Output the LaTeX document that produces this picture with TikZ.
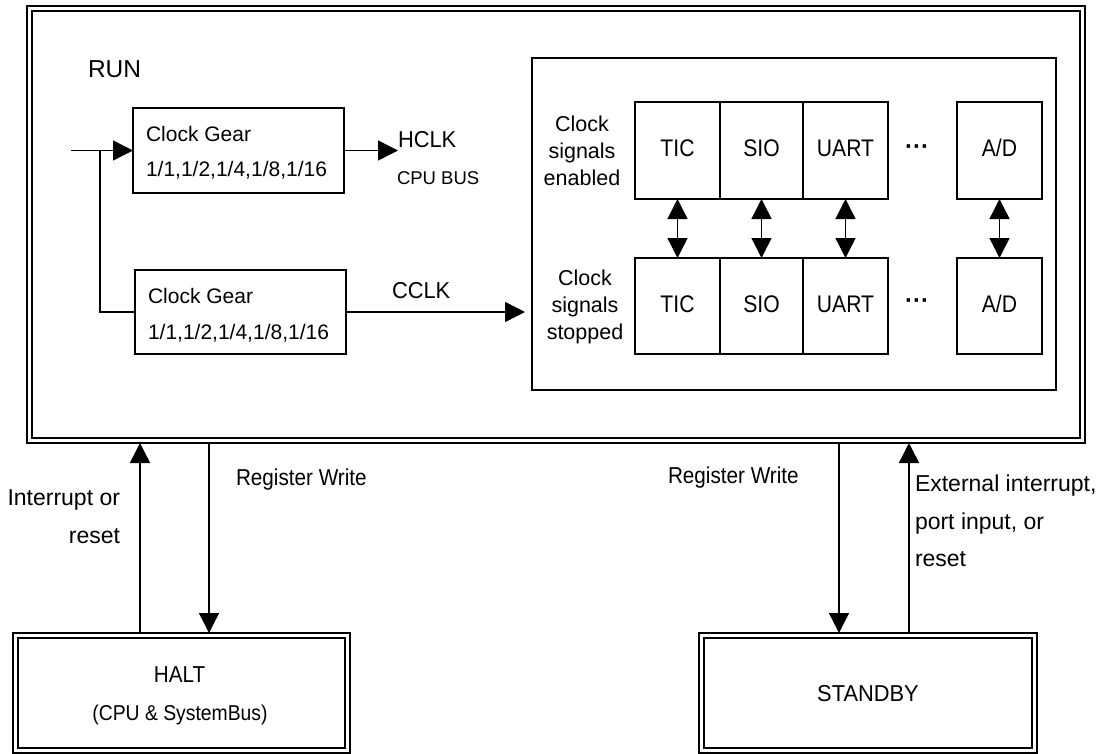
\documentclass[tikz,border=0pt]{standalone}
\usepackage{fontspec}
\setmainfont{Liberation Sans}
\newfontfamily\cnd[FakeStretch=0.9]{Liberation Sans}
\newfontfamily\cndx[FakeStretch=0.88]{Liberation Sans}
\newfontfamily\cndl[FakeStretch=0.95]{Liberation Sans}
\usetikzlibrary{arrows.meta}
\newcommand\fsz[1]{\fontsize{#1}{#1}\selectfont}
\begin{document}
\begin{tikzpicture}[x=1pt,y=-1pt,
  ln/.style={line width=1.4pt},
  box/.style={draw, ln, rectangle, inner sep=0pt, outer sep=0pt},
  dblbox/.style={draw, line width=1.5pt, double, double distance=3.5pt,
                 rectangle, inner sep=0pt, outer sep=0pt},
  arr/.style={ln, -{Triangle[length=20pt,width=20pt]}},
  darr/.style={ln, {Triangle[length=20pt,width=20pt]}-{Triangle[length=20pt,width=20pt]}},
  lbl/.style={inner sep=0pt, outer sep=0pt},
  mod/.style={box, font=\cndx\fsz{24}, text height=17.2pt, text depth=5pt},
  modA/.style={mod, minimum height=97pt},
  modB/.style={mod, minimum height=96pt},
  wire/.style={ln, shorten <=2.5pt, shorten >=2.5pt, -{Triangle[length=20pt,width=20pt]}}
]
\useasboundingbox (0,0) rectangle (1102,754);
\fill[white] (0,0) rectangle (1102,754);

% RUN state frame
\node[dblbox, minimum width=1053pt, minimum height=432pt] (run) at (556,224.5) {};
\node[lbl, anchor=base west, font=\fsz{24.5}] (runlbl) at (88,77.8) {RUN};

% clock gears
\node[box, minimum width=211pt, minimum height=85pt] (g1) at (238.5,150.5) {};
\node[lbl, anchor=base west, font=\fsz{21}] (g1a) at ([shift={(13,33.5)}]g1.north west) {Clock Gear};
\node[lbl, anchor=base west, font=\fsz{21}] (g1b) at ([shift={(13,69)}]g1.north west) {1/1,1/2,1/4,1/8,1/16};

\node[box, minimum width=211pt, minimum height=84pt] (g2) at (240.5,312) {};
\node[lbl, anchor=base west, font=\fsz{21}] (g2a) at ([shift={(13,33.5)}]g2.north west) {Clock Gear};
\node[lbl, anchor=base west, font=\fsz{21}] (g2b) at ([shift={(13,69)}]g2.north west) {1/1,1/2,1/4,1/8,1/16};

\coordinate (src) at (71,150.5);
\coordinate (fork) at (100,150.5);
\draw[arr] (src) -- (g1.west);
\draw[ln] (fork) |- (g2.west);

% HCLK output
\node[lbl, anchor=base west, font=\cndl\fsz{23}] (hclk) at (398,148) {HCLK};
\node[lbl, anchor=base west, font=\fsz{18.5}] (cpubus) at (397,184.6) {CPU BUS};
\draw[arr] (g1.east) -- (g1.east -| hclk.west);

% peripheral block
\node[box, minimum width=524pt, minimum height=332pt] (inner) at (794,224) {};
\node[lbl, anchor=base west, font=\cndl\fsz{23}] (cclk) at (392,298) {CCLK};
\draw[arr, shorten >=7pt] (g2.east) -- (g2.east -| inner.west);

\node[lbl, anchor=base, font=\fsz{21.5}] (en1) at (582,131.5) {Clock};
\node[lbl, anchor=base, font=\fsz{21.5}] (en2) at (582,158.5) {signals};
\node[lbl, anchor=base, font=\fsz{21.5}] (en3) at (582,185.5) {enabled};
\node[lbl, anchor=base, font=\fsz{21.5}] (st1) at (585,285) {Clock};
\node[lbl, anchor=base, font=\fsz{21.5}] (st2) at (585,312) {signals};
\node[lbl, anchor=base, font=\fsz{21.5}] (st3) at (585,339) {stopped};

\node[modA, minimum width=85pt] (ticA) at (677.5,150.5) {TIC};
\node[modA, minimum width=83pt] (sioA) at (761.5,150.5) {SIO};
\node[modA, minimum width=85pt] (uartA) at (845.5,150.5) {UART};
\node[modA, minimum width=85pt] (adA) at (999.5,150.5) {A/D};
\node[lbl, anchor=base, font=\bfseries\fsz{24}] (dotsA) at (917,155) {···};

\node[modB, minimum width=85pt] (ticB) at (677.5,306) {TIC};
\node[modB, minimum width=83pt] (sioB) at (761.5,306) {SIO};
\node[modB, minimum width=85pt] (uartB) at (845.5,306) {UART};
\node[modB, minimum width=85pt] (adB) at (999.5,306) {A/D};
\node[lbl, anchor=base, font=\bfseries\fsz{24}] (dotsB) at (917,308) {···};

\draw[darr] (ticA.south) -- (ticB.north);
\draw[darr] (sioA.south) -- (sioB.north);
\draw[darr] (uartA.south) -- (uartB.north);
\draw[darr] (adA.south) -- (adB.north);

% low-power states
\node[dblbox, minimum width=332pt, minimum height=115pt] (halt) at (181.5,693) {};
\node[lbl, anchor=base, font=\cnd\fsz{23}] (haltA) at (179.5,682.7) {HALT};
\node[lbl, anchor=base, font=\cnd\fsz{21.5}] (haltB) at (180,720) {(CPU \& SystemBus)};

\node[dblbox, minimum width=333pt, minimum height=115pt, font=\cndl\fsz{23},
      text height=16.5pt, text depth=0pt] (stby) at (868,693) {STANDBY};

% transitions
\coordinate (xa) at (140,0);
\coordinate (xb) at (209,0);
\coordinate (xc) at (839,0);
\coordinate (xd) at (909,0);
\draw[wire] (halt.north -| xa) -- (run.south -| xa);
\draw[wire] (run.south -| xb) -- (halt.north -| xb);
\draw[wire] (run.south -| xc) -- (stby.north -| xc);
\draw[wire] (stby.north -| xd) -- (run.south -| xd);

\node[lbl, anchor=base east, font=\fsz{23}] (intA) at (120,505) {Interrupt or};
\node[lbl, anchor=base east, font=\fsz{23}] (intB) at (120,543) {reset};
\node[lbl, anchor=base west, font=\cnd\fsz{23}] (rwA) at (236,485) {Register Write};
\node[lbl, anchor=base west, font=\cnd\fsz{23}] (rwB) at (668,483) {Register Write};
\node[lbl, anchor=base west, font=\fsz{23}] (extA) at (915,491.5) {External interrupt,};
\node[lbl, anchor=base west, font=\fsz{23}] (extB) at (915,529.5) {port input, or};
\node[lbl, anchor=base west, font=\fsz{23}] (extC) at (915,566.7) {reset};
\end{tikzpicture}
\end{document}
